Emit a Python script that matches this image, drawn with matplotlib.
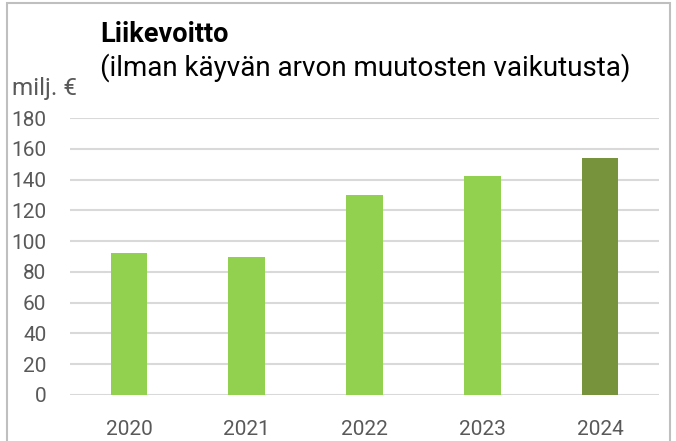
import matplotlib.pyplot as plt
from matplotlib.patches import Rectangle

years = ["2020", "2021", "2022", "2023", "2024"]
profit = [92, 90, 130, 142, 154]
colors = ["#92D050", "#92D050", "#92D050", "#92D050", "#77933C"]

plt.rcParams['font.family'] = ['Roboto', 'DejaVu Sans']

W, H = 676, 441
fig = plt.figure(figsize=(W / 100, H / 100), dpi=100)
ax = fig.add_axes([70 / W, 1 - 395 / H, 589 / W, 277 / H])

ax.bar(years, profit, width=0.31, color=colors, zorder=3)
ax.set_ylim(0, 180)
ax.set_xlim(-0.5, 4.5)
ax.set_yticks(range(0, 181, 20))
ax.yaxis.grid(True, color='#D9D9D9', linewidth=1.5, zorder=0)
for s in ax.spines.values():
    s.set_visible(False)
ax.tick_params(axis='both', length=0, labelsize=15, labelcolor='#595959')
ax.tick_params(axis='y', pad=17)
ax.tick_params(axis='x', pad=18)

# chart area border
fig.patches.append(Rectangle((7 / W, -0.1), 663 / W, 1.1 - 3 / H, transform=fig.transFigure,
                             fill=False, edgecolor='#BFBFBF', linewidth=1.5))

fig.text(100 / W, 1 - 35 / H, "Liikevoitto", fontsize=19.5, fontweight='bold', va='center')
fig.text(100 / W, 1 - 68 / H, "(ilman käyvän arvon muutosten vaikutusta)", fontsize=20, va='center')
fig.text(12 / W, 1 - 89 / H, "milj. €", fontsize=17.5, color='#595959', va='center')

fig.savefig("out.png", dpi=100)
